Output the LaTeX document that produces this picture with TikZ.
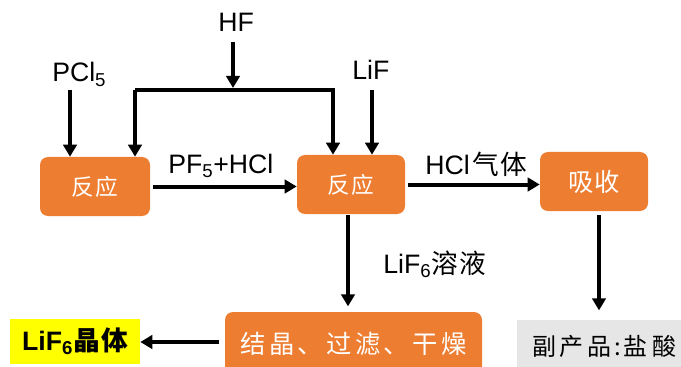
\documentclass[tikz,border=0pt]{standalone}
\usepackage{fontspec}
\setmainfont{Liberation Sans}
\newfontfamily\cjk{Noto Sans CJK SC}
\usetikzlibrary{arrows.meta}
\definecolor{orng}{HTML}{ED7D31}
\definecolor{lgray}{HTML}{E7E6E6}
\definecolor{yel}{HTML}{FFFF00}
\begin{document}
\begin{tikzpicture}[x=0.75pt,y=-0.75pt,
  obox/.style={fill=orng, draw=none, rounded corners=6pt, text=white, font=\cjk\fontsize{17}{20}\selectfont, inner sep=0pt},
  lbl/.style={anchor=base west, inner sep=0pt, font=\fontsize{20}{24}\selectfont},
  arr/.style={line width=3pt, line join=miter, -{Triangle[length=9pt,width=10pt]}},
]
\useasboundingbox (0,0) rectangle (681,367);
% boxes
\node[obox, minimum width=82.5pt, minimum height=44.25pt] (b1) at (95,186.5) {反\hspace{1pt}应};
\node[obox, minimum width=81pt, minimum height=44.25pt] (b2) at (351,184.5) {反\hspace{1pt}应};
\node[obox, minimum width=81pt, minimum height=44.25pt, font=\cjk\fontsize{19}{22}\selectfont] (b3) at (594,181.5) {吸收};
\node[obox, minimum width=192.75pt, minimum height=48pt, font=\cjk\fontsize{19}{22}\selectfont] (b4) at (353.5,344)
  {结\hspace{2.5pt}晶\hspace{2.5pt}、\hspace{2.5pt}过\hspace{2.5pt}滤\hspace{2.5pt}、\hspace{2.5pt}干\hspace{2.5pt}燥};
\node[fill=yel, minimum width=97.5pt, minimum height=33.75pt, inner sep=0pt] (y) at (75,341.5)
  {\fontsize{20}{24}\selectfont\bfseries LiF\textsubscript{6}{\cjk\bfseries 晶\hspace{1pt}体}};
\node[fill=lgray, minimum width=130.5pt, minimum height=39pt, inner sep=0pt, font=\cjk\fontsize{18}{22}\selectfont] (g) at (604,346) {副\hspace{3pt}产\hspace{3pt}品\hspace{2pt}:\hspace{2pt}盐\hspace{3pt}酸};
% labels
\node[lbl] (pcl) at (52,82) {PCl\textsubscript{5}};
\node[lbl] (hf) at (218,32) {HF};
\node[lbl] (lif) at (352,80) {LiF};
\node[lbl] (pf) at (168,173) {PF\textsubscript{5}+HCl};
\node[lbl] (hcl) at (425,175) {HCl\hspace{2pt}{\cjk 气\hspace{1pt}体}};
\node[lbl] (lis) at (383,273) {LiF\textsubscript{6}{\cjk 溶\hspace{1pt}液}};
% connectors
\coordinate (p1) at (70,90);
\coordinate (h1) at (233,42);
\coordinate (h2) at (233,88);
\coordinate (bl) at (135,90);
\coordinate (br) at (333,90);
\coordinate (l1) at (372,90);
\draw[arr] (p1) -- (p1 |- b1.north);
\draw[arr] (h1) -- (h2);
\draw[arr] (bl) -- (bl |- b1.north);
\draw[arr] (bl) -- (br) -- (br |- b2.north);
\draw[arr] (l1) -- (l1 |- b2.north);
\draw[arr, shorten <=2pt] (b1.east) -- (b1.east -| b2.west);
\draw[arr, shorten <=2pt] (b2.east) -- (b2.east -| b3.west);
\coordinate (d1) at (348,214);
\draw[arr, shorten <=1pt, shorten >=4pt] (d1) -- (d1 |- b4.north);
\coordinate (d2) at (599,211);
\draw[arr, shorten <=3pt, shorten >=7pt] (d2) -- (d2 |- g.north);
\draw[arr, shorten <=4pt] (b4.west |- 0,342) -- (y.east |- 0,342);
\end{tikzpicture}
\end{document}
